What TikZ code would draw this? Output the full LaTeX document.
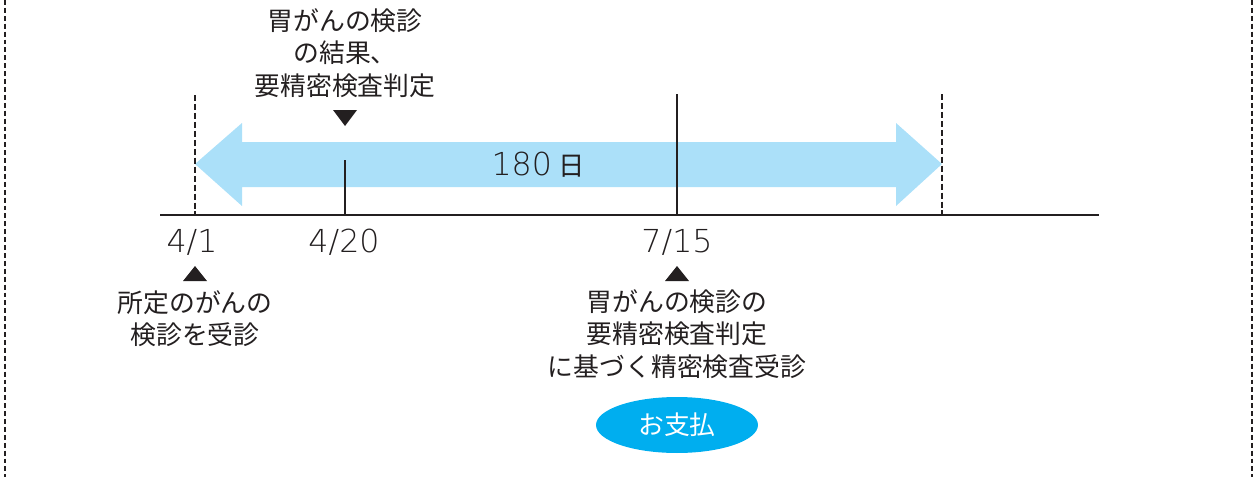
\documentclass[tikz,border=0pt]{standalone}
\usepackage{fontspec}
\setmainfont{Noto Sans CJK JP}
\newfontfamily\datefont{DejaVu Sans ExtraLight}
\usetikzlibrary{shapes.geometric}
\definecolor{arrowblue}{RGB}{171,224,249}
\definecolor{paycyan}{RGB}{0,174,239}
\definecolor{ink}{RGB}{35,31,32}
\tikzset{
	datetext/.style={text=ink,font=\datefont\fontsize{18}{20}\selectfont},
	notetext/.style={text=ink,align=center,font=\fontsize{14.7}{18.4}\selectfont},
	marktri/.style={fill=ink,draw=none},
	limitline/.style={draw=ink,line width=1.1pt,dash pattern=on 3.4pt off 1.7pt},
	tickline/.style={draw=ink,line width=1pt},
}
\begin{document}
\begin{tikzpicture}[x=0.02cm,y=-0.02cm]
			\useasboundingbox (0,0) rectangle (1258,477);
			% frame
			\draw[draw=ink,line width=0.9pt,dash pattern=on 2.8pt off 1.7pt] (5,0) -- (5,477);
			\draw[draw=ink,line width=0.9pt,dash pattern=on 2.8pt off 1.7pt] (1252,0) -- (1252,477);
			
			% 180 days
			\fill[arrowblue] (195,164) -- (242,123) -- (242,142) -- (896,142) -- (896,123) -- (942,164)
				-- (896,206) -- (896,187) -- (242,187) -- (242,206) -- cycle;
			\node[datetext] (Days) at (538,165) {180\hspace{3.5pt}{\normalfont\fontsize{15}{18}\selectfont 日}};
			
			\coordinate (LineStart) at (160,215);
			\coordinate (LineEnd) at (1099,215);
			\coordinate (StartTop) at (195,95);
			\coordinate (StartBase) at (195,215);
			\coordinate (ResultTop) at (345,160);
			\coordinate (ResultBase) at (345,215);
			\coordinate (ExamTop) at (677,94);
			\coordinate (ExamBase) at (677,215);
			\coordinate (EndTop) at (942,94);
			\coordinate (EndBase) at (942,215);
			
			\draw[tickline] (ResultTop) to (ResultBase);
			\draw[tickline] (ExamTop) to (ExamBase);
			\draw[limitline] (StartTop) to (StartBase);
			\draw[limitline] (EndTop) to (EndBase);
			\draw[draw=ink,line width=1.4pt] (LineStart) to (LineEnd);
			
			% dates
			\node[datetext] (AprOne) at (192,242) {4/1};
			\node[datetext] (AprTwenty) at (344,242) {4/20};
			\node[datetext] (JulFifteen) at (677,242) {7/15};
			
			% markers
			\fill[marktri] (333,110) -- (357,110) -- (345,126) -- cycle;
			\fill[marktri] (183,281) -- (207,281) -- (195,266) -- cycle;
			\fill[marktri] (665,281) -- (689,281) -- (677,266) -- cycle;
			
			\node[notetext] (ResultNote) at (345,53) {胃がんの検診\\の結果、\\要精密検査判定};
			\node[notetext] (StartNote) at (195,319) {所定のがんの\\検診を受診};
			\node[notetext] (ExamNote) at (677,334) {胃がんの検診の\\要精密検査判定\\に基づく精密検査受診};
			\node[ellipse,fill=paycyan,text=white,minimum width=3.24cm,minimum height=1.12cm,
				font=\fontsize{14.7}{18}\selectfont] (Pay) at (677,425) {お支払};
\end{tikzpicture}
\end{document}
